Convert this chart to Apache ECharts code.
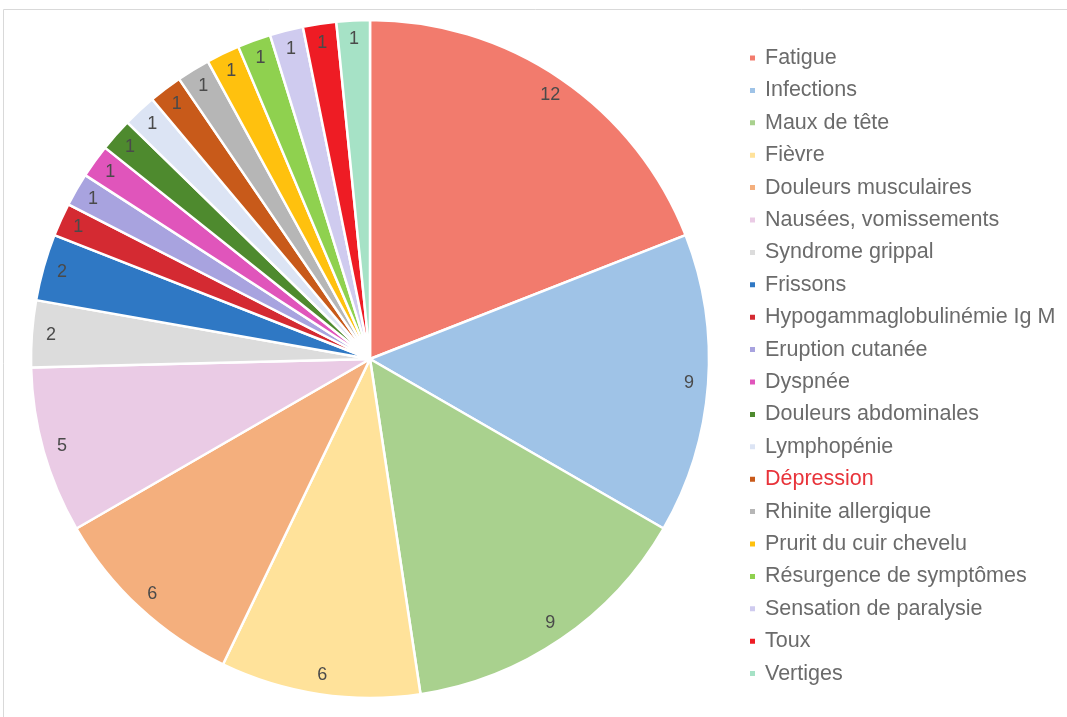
<!DOCTYPE html>
<html>
<head>
<meta charset="utf-8">
<script src="https://cdn.jsdelivr.net/npm/echarts@6/dist/echarts.min.js"></script>
<style>
html,body{margin:0;padding:0;background:#fff;}
#chart{width:1067px;height:717px;}
</style>
</head>
<body>
<div id="chart"></div>
<script>
const categories = [
  'Fatigue', 'Infections', 'Maux de tête', 'Fièvre', 'Douleurs musculaires',
  'Nausées, vomissements', 'Syndrome grippal', 'Frissons', 'Hypogammaglobulinémie Ig M',
  'Eruption cutanée', 'Dyspnée', 'Douleurs abdominales', 'Lymphopénie', 'Dépression',
  'Rhinite allergique', 'Prurit du cuir chevelu', 'Résurgence de symptômes',
  'Sensation de paralysie', 'Toux', 'Vertiges'
];
const values = [12, 9, 9, 6, 6, 5, 2, 2, 1, 1, 1, 1, 1, 1, 1, 1, 1, 1, 1, 1];
const palette = [
  '#F27B6D', '#9FC3E7', '#A9D18E', '#FFE29A', '#F4AF7D',
  '#EACBE5', '#DCDCDC', '#2F78C4', '#D42A32', '#A8A3DF',
  '#E055BB', '#4E8A2E', '#DCE4F4', '#C85A1A', '#B6B6B6',
  '#FFC10E', '#8FD14F', '#CFCBEF', '#EE1C24', '#A6E2C6'
];
const highlightedLegend = 'Dépression';

const R = 339;
const center = [370, 359];

const chart = echarts.init(document.getElementById('chart'));
const pieData = categories.map((c, i) => ({ name: c, value: values[i], itemStyle: { color: palette[i] } }));
const labelData = categories.map((c, i) => ({ name: c, value: values[i] }));

chart.setOption({
  animation: false,
  graphic: [{
    type: 'rect',
    shape: { x: 3.5, y: 9.5, width: 1080, height: 720 },
    style: { fill: 'none', stroke: '#D9D9D9', lineWidth: 1 },
    silent: true
  }],
  legend: {
    orient: 'vertical',
    left: 743,
    top: 41,
    icon: 'rect',
    itemWidth: 7,
    itemHeight: 7,
    itemGap: 8.4,
    textStyle: { fontFamily: 'Liberation Sans', fontSize: 21.5, color: '#6b6b6b', lineHeight: 24, padding: [0, 0, 0, 4] },
    data: categories.map(c => c === highlightedLegend
      ? { name: c, textStyle: { color: '#E8333A' } }
      : { name: c })
  },
  series: [{
    type: 'pie',
    center: center,
    radius: [0, R],
    startAngle: 90,
    clockwise: true,
    avoidLabelOverlap: false,
    itemStyle: { borderColor: '#fff', borderWidth: 2.5 },
    label: { show: false },
    labelLine: { show: false },
    data: pieData
  }, {
    type: 'pie',
    center: center,
    radius: [R * 0.87, R],
    startAngle: 90,
    clockwise: true,
    silent: true,
    avoidLabelOverlap: false,
    legendHoverLink: false,
    itemStyle: { color: 'rgba(0,0,0,0)', borderWidth: 0 },
    label: {
      show: true,
      position: 'inside',
      formatter: '{c}',
      fontFamily: 'Liberation Sans',
      fontSize: 18,
      color: '#4a4a4a'
    },
    labelLine: { show: false },
    data: labelData
  }]
});
</script>
</body>
</html>
